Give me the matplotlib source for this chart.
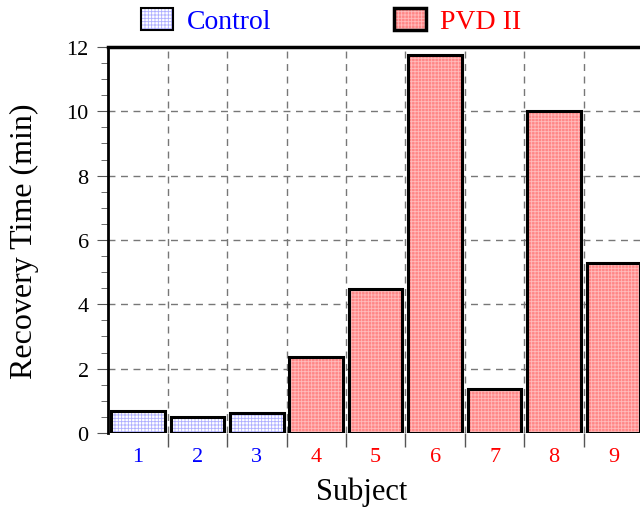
import matplotlib
matplotlib.use("Agg")
import matplotlib.pyplot as plt
from matplotlib.patches import Patch
from matplotlib.legend_handler import HandlerTuple
from matplotlib.ticker import MultipleLocator, FixedLocator

subjects = ["1", "2", "3", "4", "5", "6", "7", "8", "9"]
groups = ["Control", "Control", "Control", "PVD II", "PVD II", "PVD II", "PVD II", "PVD II", "PVD II"]
recovery = [0.67, 0.50, 0.63, 2.35, 4.49, 11.76, 1.36, 10.0, 5.28]

face = {"Control": "#ffffff", "PVD II": "#ff8686"}
hatch_col = {"Control": "#aeaeff", "PVD II": "#ffbcbc"}
text_col = {"Control": "blue", "PVD II": "red"}

plt.rcParams["font.family"] = ["Liberation Serif", "DejaVu Serif"]
plt.rcParams["hatch.linewidth"] = 0.6

fig = plt.figure(figsize=(6.4, 5.1), dpi=100)
ax = fig.add_axes([0.169, 0.149, 0.836, 0.757])

x = list(range(1, len(subjects) + 1))
for xi, val, g in zip(x, recovery, groups):
    ax.bar(xi, val, width=0.9, color=face[g], edgecolor=hatch_col[g],
           hatch="+++++", linewidth=0, zorder=2)
    ax.bar(xi, val, width=0.9, fill=False, edgecolor="black", linewidth=2.2, zorder=3)

ax.set_xlim(0.5, 9.5)
ax.set_ylim(0, 12)

ax.xaxis.set_major_locator(FixedLocator(x))
ax.set_xticklabels(subjects, fontsize=16)
for lbl, g in zip(ax.get_xticklabels(), groups):
    lbl.set_color(text_col[g])
ax.xaxis.set_minor_locator(FixedLocator([i + 0.5 for i in range(1, 9)]))
ax.tick_params(axis="x", which="major", length=0, pad=10)
ax.tick_params(axis="x", which="minor", length=10, color="#555555", width=1)

ax.yaxis.set_major_locator(MultipleLocator(2))
ax.yaxis.set_minor_locator(MultipleLocator(0.5))
ax.tick_params(axis="y", which="major", length=8, color="#555555", labelsize=16, pad=6)
ax.tick_params(axis="y", which="minor", length=5, color="#555555")

ax.grid(True, axis="y", which="major", linestyle=(0, (5, 4)), color="#777777", linewidth=1, zorder=0)
ax.grid(True, axis="x", which="minor", linestyle=(0, (5, 4)), color="#777777", linewidth=1, zorder=0)
ax.set_axisbelow(True)

ax.spines["right"].set_visible(False)
ax.spines["bottom"].set_visible(False)
ax.spines["top"].set_linewidth(2.5)
ax.spines["left"].set_linewidth(2)

ax.set_xlabel("Subject", fontsize=22)
ax.xaxis.set_label_coords(0.474, -0.112)
ax.set_ylabel("Recovery Time (min)", fontsize=23, labelpad=20)

handles = []
labels = []
for g in ["Control", "PVD II"]:
    h1 = Patch(facecolor=face[g], edgecolor=hatch_col[g], hatch="+++++", linewidth=0)
    h2 = Patch(fill=False, edgecolor="black", linewidth=1.5 if g == "Control" else 2.5)
    handles.append((h1, h2))
    labels.append(g)
leg = fig.legend(handles, labels, ncol=2, loc="center left", bbox_to_anchor=(0.221, 0.957),
                 frameon=False, fontsize=20, handlelength=1.15, handleheight=0.85,
                 handletextpad=0.5, columnspacing=4.4, borderaxespad=0, borderpad=0,
                 handler_map={tuple: HandlerTuple(ndivide=1, pad=0)})
for t, g in zip(leg.get_texts(), labels):
    t.set_color(text_col[g])

fig.savefig("out.png", dpi=100)
